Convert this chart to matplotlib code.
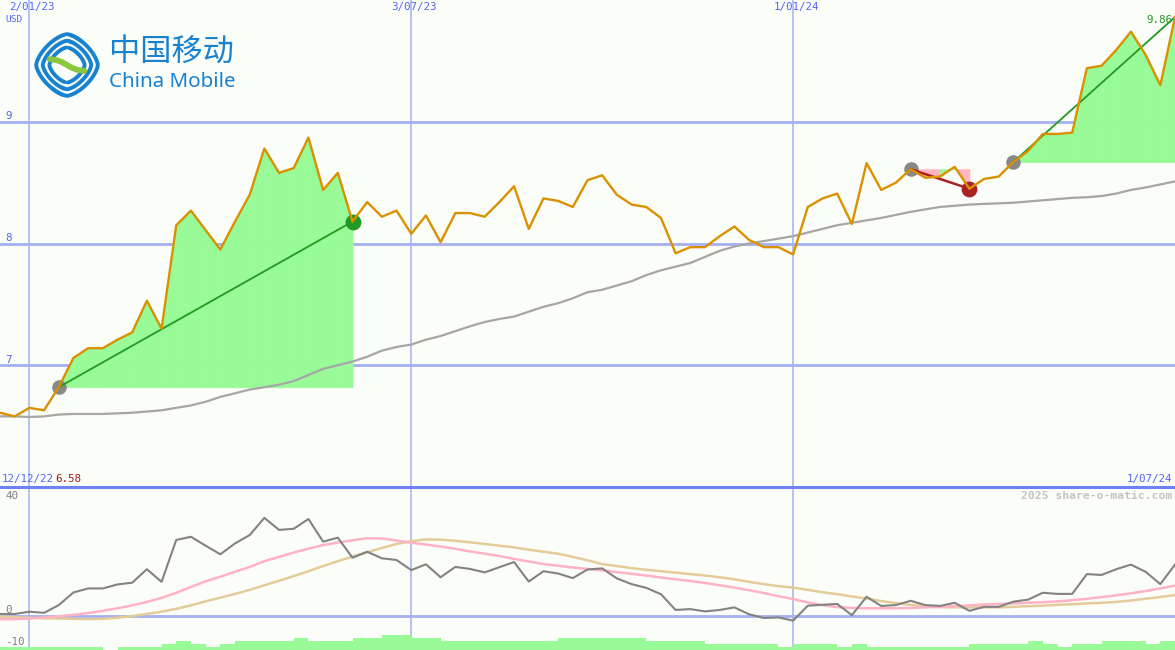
import numpy as np
import pandas as pd
import matplotlib.pyplot as plt
from matplotlib.lines import Line2D

# weekly closes, China Mobile (USD)
weeks = pd.date_range('2022-12-19', periods=81, freq='W-MON')

price = [6.61, 6.58, 6.65, 6.63, 6.82, 7.06, 7.14, 7.14, 7.21, 7.27,
         7.53, 7.30, 8.15, 8.27, 8.11, 7.95, 8.18, 8.40, 8.78, 8.58,
         8.62, 8.87, 8.44, 8.58, 8.18, 8.34, 8.22, 8.27, 8.08, 8.23,
         8.01, 8.25, 8.25, 8.22, 8.34, 8.47, 8.12, 8.37, 8.35, 8.30,
         8.52, 8.56, 8.40, 8.32, 8.30, 8.21, 7.92, 7.97, 7.97, 8.06,
         8.14, 8.03, 7.97, 7.97, 7.91, 8.30, 8.37, 8.41, 8.16, 8.66,
         8.44, 8.50, 8.61, 8.54, 8.55, 8.63, 8.45, 8.53, 8.55, 8.67,
         8.76, 8.90, 8.90, 8.91, 9.44, 9.46, 9.59, 9.74, 9.55, 9.30,
         9.86]

avg = [6.58, 6.58, 6.575, 6.58, 6.595, 6.60, 6.60, 6.60, 6.605, 6.61,
       6.62, 6.63, 6.65, 6.67, 6.70, 6.74, 6.77, 6.80, 6.82, 6.84,
       6.87, 6.92, 6.97, 7.00, 7.03, 7.07, 7.12, 7.15, 7.17, 7.21,
       7.24, 7.28, 7.32, 7.355, 7.38, 7.40, 7.44, 7.48, 7.51, 7.55,
       7.60, 7.62, 7.655, 7.69, 7.74, 7.78, 7.81, 7.84, 7.89, 7.94,
       7.975, 8.00, 8.02, 8.04, 8.06, 8.09, 8.12, 8.15, 8.17, 8.19,
       8.21, 8.235, 8.26, 8.28, 8.30, 8.31, 8.32, 8.325, 8.33, 8.335,
       8.345, 8.355, 8.365, 8.375, 8.38, 8.39, 8.41, 8.44, 8.46, 8.485,
       8.51]

osc = [0.6, 0.6, 1.4, 1.0, 3.7, 8.1, 9.5, 9.5, 10.9, 11.5,
       16.2, 11.8, 26.4, 27.5, 24.4, 21.4, 25.2, 28.1, 34.1, 29.9,
       30.3, 33.7, 25.8, 27.2, 20.2, 22.3, 20.0, 19.4, 15.9, 17.9,
       13.4, 17.0, 16.3, 15.1, 16.9, 18.7, 11.9, 15.5, 14.7, 13.1,
       16.1, 16.5, 13.0, 11.0, 9.7, 7.5, 2.0, 2.3, 1.5, 2.0,
       2.9, 0.5, -0.8, -0.6, -1.7, 3.5, 3.8, 4.1, 0.2, 6.6,
       3.4, 3.7, 5.2, 3.7, 3.4, 4.5, 1.7, 3.1, 3.1, 4.9,
       5.6, 8.0, 7.6, 7.6, 14.5, 14.2, 16.2, 17.8, 15.3, 11.0,
       17.8]

osc_fast = [-1.2, -1.2, -1.0, -0.6, -0.2, 0.3, 0.9, 1.7, 2.6, 3.6,
            4.8, 6.2, 8.0, 10.0, 12.0, 13.6, 15.3, 17.0, 19.0, 20.5,
            22.0, 23.4, 24.6, 25.5, 26.3, 27.0, 26.9, 26.2, 25.4, 24.8,
            24.1, 23.3, 22.4, 21.6, 20.8, 19.8, 18.9, 18.0, 17.4, 16.8,
            16.3, 15.8, 15.2, 14.6, 14.0, 13.3, 12.7, 12.1, 11.4, 10.6,
            9.8, 8.9, 7.9, 6.8, 5.8, 4.6, 3.7, 3.0, 2.7, 2.6,
            2.6, 2.6, 2.7, 2.9, 3.1, 3.4, 3.6, 3.9, 4.1, 4.3,
            4.5, 4.7, 5.0, 5.4, 5.9, 6.5, 7.1, 7.8, 8.6, 9.5,
            10.5]

osc_slow = [-0.3, -0.5, -0.7, -0.9, -1.0, -1.1, -1.2, -1.1, -0.7, -0.1,
            0.6, 1.4, 2.4, 3.6, 5.0, 6.3, 7.6, 9.0, 10.6, 12.2,
            13.8, 15.5, 17.3, 19.0, 20.6, 22.1, 23.6, 25.0, 26.0, 26.6,
            26.5, 26.1, 25.6, 25.0, 24.4, 23.8, 23.0, 22.3, 21.6, 20.5,
            19.3, 18.0, 17.3, 16.6, 16.0, 15.5, 15.0, 14.5, 14.0, 13.4,
            12.7, 11.8, 11.0, 10.3, 9.8, 9.0, 8.2, 7.5, 6.7, 6.0,
            5.1, 4.4, 3.8, 3.3, 3.0, 2.9, 2.9, 2.9, 2.9, 3.1,
            3.3, 3.5, 3.8, 4.0, 4.3, 4.5, 4.8, 5.3, 5.9, 6.5,
            7.2]

volume = [1.15, 1.15, 1.15, 1.15, 1.15, 1.15, 1.15, 0.0, 1.15, 1.15,
          1.15, 2.2, 3.25, 2.2, 1.15, 2.2, 3.25, 3.25, 3.25, 3.25,
          4.3, 3.25, 3.25, 3.25, 4.3, 4.3, 5.35, 5.35, 4.3, 4.3,
          3.25, 3.25, 3.25, 3.25, 3.25, 3.25, 3.25, 3.25, 4.3, 4.3,
          4.3, 4.3, 4.3, 4.3, 3.25, 3.25, 3.25, 3.25, 2.2, 2.2,
          2.2, 2.2, 2.2, 1.15, 2.2, 2.2, 2.2, 1.15, 2.2, 1.15,
          1.15, 1.15, 1.15, 1.15, 1.15, 1.15, 2.2, 2.2, 2.2, 2.2,
          3.25, 2.2, 1.15, 2.2, 2.2, 3.25, 3.25, 3.25, 2.2, 3.25,
          3.25]

# (entry week, exit week)
trades = [(4, 24), (62, 66), (69, 80)]
open_trade = 2

grid_dates = pd.to_datetime(['2023-01-02', '2023-07-03', '2024-01-01'])
grid_labels = ['2/01/23', '3/07/23', '1/01/24']

W, H = 1175, 650
bg = '#fbfdf9'
grid_c = '#a4b0f2'
blue_txt = '#5566ee'
mono = 'DejaVu Sans Mono'
fs = 7.8

fig = plt.figure(figsize=(W / 100, H / 100), dpi=100, facecolor=bg)

def fx(x):
    return x / W

def fy(y):
    return 1 - y / H

split = 487
ax = fig.add_axes([0, fy(split), 1, split / H], facecolor=bg)
ax2 = fig.add_axes([0, 0, 1, fy(split)], facecolor=bg)

for a in (ax, ax2):
    a.set_xlim(weeks[0], weeks[-1])
    for s in a.spines.values():
        s.set_visible(False)
    a.set_xticks([])
    a.set_yticks([])
    for d in grid_dates:
        a.axvline(d, color=grid_c, lw=1.1, zorder=1)

ax.set_ylim(6.0, 10.0)
ax2.set_ylim(-11.95, 44.85)

for lvl in (7, 8, 9):
    ax.axhline(lvl, color=grid_c, lw=2.0, zorder=1)
ax2.axhline(0, color=grid_c, lw=2.0, zorder=1)

# trade shading
green_fill = '#98fb98'
pink_fill = '#ffb6c1'
for k, (s, e) in enumerate(trades):
    base = price[s]
    for i in range(s, e):
        col = green_fill if price[i + 1] >= base else pink_fill
        ax.fill_between(weeks[i:i + 2], price[i:i + 2], base, color=col,
                        lw=0.6, edgecolor=col, zorder=2)

ax.plot(weeks, avg, color='#a6a6a6', lw=1.6, zorder=3)

for k, (s, e) in enumerate(trades):
    up = price[e] >= price[s]
    lc = '#229922' if up else '#a82222'
    ax.scatter(weeks[s], price[s], s=110, color='#888888', lw=0, zorder=4)
    if k != open_trade:
        ax.scatter(weeks[e], price[e], s=130, color=lc, lw=0, zorder=4)
    ax.plot([weeks[s], weeks[e]], [price[s], price[e]], color=lc,
            lw=1.3 if up else 1.8, zorder=5)

ax.plot(weeks, price, color='#d99100', lw=1.7, zorder=6)

ax.annotate('9.86', (weeks[-1], price[-1]), xytext=(-3, -3),
            textcoords='offset pixels', color='#229922', ha='right',
            va='center', fontsize=fs, family=mono, zorder=7)

# lower panel
ax2.bar(weeks, volume, width=7, align='edge', bottom=-11.95,
        color=green_fill, lw=0, zorder=2)
ax2.plot(weeks, osc_slow, color='#e3cb9a', lw=1.8, zorder=3)
ax2.plot(weeks, osc_fast, color='#ffb2c4', lw=1.8, zorder=3)
ax2.plot(weeks, osc, color='#838383', lw=1.5, zorder=4)

fig.add_artist(Line2D([0, 1], [fy(split), fy(split)], color='#6f80f2',
                      lw=2.2, transform=fig.transFigure))

for d, lab in zip(grid_dates, grid_labels):
    ax.annotate(lab, (d, 1), xycoords=('data', 'axes fraction'),
                xytext=(3, -2), textcoords='offset pixels', ha='center',
                va='top', fontsize=fs, color=blue_txt, family=mono)

fig.text(fx(5), fy(20), 'USD', fontsize=6.8, color=blue_txt, family=mono, va='center')
for lvl, yy in ((9, 116), (8, 238), (7, 360)):
    fig.text(fx(5), fy(yy), str(lvl), fontsize=fs, color=blue_txt,
             family=mono, va='center')
for lab, yy in (('40', 496), ('0', 610), ('-10', 642)):
    fig.text(fx(5), fy(yy), lab, fontsize=fs, color='#808080',
             family=mono, va='center')

fig.text(fx(2), fy(479), '12/12/22', fontsize=fs, color=blue_txt, family=mono, va='center')
fig.text(fx(55), fy(479), '6.58', fontsize=fs, color='#a01818', family=mono, va='center')
fig.text(fx(1172), fy(479), '1/07/24', fontsize=fs, color=blue_txt,
         family=mono, va='center', ha='right')
fig.text(fx(1172), fy(496), '2025 share-o-matic.com', fontsize=8.2,
         color='#c4c4c4', family=mono, weight='bold', va='center', ha='right')

# logo
logo_blue = '#1782d0'
fig.text(fx(109), fy(53), '中国移动', fontsize=22.5, color=logo_blue,
         family=['Noto Sans CJK SC', 'DejaVu Sans'], va='center')
fig.text(fx(109), fy(82), 'China Mobile', fontsize=14.8, color=logo_blue,
         family='Noto Sans', va='center')

lg = fig.add_axes([fx(34), fy(98), fx(66), 66 / H])
lg.set_xlim(-1.05, 1.05)
lg.set_ylim(-1.05, 1.05)
lg.set_axis_off()

def rdiamond(r, t0, t1):
    t = np.radians(np.linspace(t0, t1, 80))
    p = 1.5
    c, s = np.cos(t), np.sin(t)
    x = np.sign(c) * np.abs(c) ** (2 / p) * r
    y = np.sign(s) * np.abs(s) ** (2 / p) * r
    return x, y

for r, a0 in ((0.98, 55), (0.77, 70), (0.56, 95)):
    x, y = rdiamond(r, a0, 258)
    lg.plot(x, y, color=logo_blue, lw=2.8, solid_capstyle='round')
    x, y = rdiamond(r, a0 + 180, 438)
    lg.plot(x, y, color=logo_blue, lw=2.8, solid_capstyle='round')
sx = np.linspace(-0.55, 0.55, 60)
lg.plot(sx, -0.2 * np.tanh(3.0 * sx), color='#8cc63f', lw=4.2,
        solid_capstyle='round')

fig.savefig('out.png', dpi=100, facecolor=bg)
